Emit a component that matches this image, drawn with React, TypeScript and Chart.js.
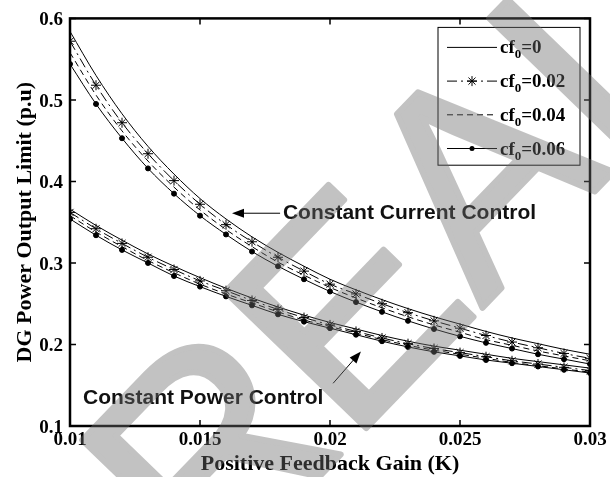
import React, { useEffect, useRef } from 'react';
import { Chart, registerables } from 'chart.js';

Chart.register(...registerables);

// ---------- data ----------
const kValues = [0.010, 0.011, 0.012, 0.013, 0.014, 0.015, 0.016, 0.017, 0.018, 0.019, 0.020,
  0.021, 0.022, 0.023, 0.024, 0.025, 0.026, 0.027, 0.028, 0.029, 0.030];

// Constant Current Control (upper group)
const currentCf0 = [0.584, 0.530, 0.483, 0.443, 0.409, 0.379, 0.354, 0.332, 0.313, 0.296, 0.280, 0.267, 0.255, 0.244, 0.234, 0.225, 0.216, 0.208, 0.201, 0.194, 0.188];
const currentCf002 = [0.572, 0.518, 0.472, 0.434, 0.401, 0.372, 0.347, 0.326, 0.307, 0.290, 0.274, 0.262, 0.250, 0.239, 0.229, 0.220, 0.211, 0.203, 0.196, 0.189, 0.183];
const currentCf004 = [0.558, 0.506, 0.462, 0.425, 0.393, 0.365, 0.341, 0.320, 0.301, 0.285, 0.270, 0.257, 0.245, 0.234, 0.224, 0.215, 0.206, 0.199, 0.192, 0.186, 0.180];
const currentCf006 = [0.544, 0.495, 0.453, 0.416, 0.385, 0.358, 0.335, 0.314, 0.296, 0.280, 0.265, 0.252, 0.240, 0.229, 0.219, 0.210, 0.202, 0.195, 0.188, 0.182, 0.176];

// Constant Power Control (lower group)
const powerCf0 = [0.366, 0.346, 0.328, 0.311, 0.296, 0.282, 0.269, 0.257, 0.246, 0.236, 0.227, 0.219, 0.211, 0.204, 0.198, 0.193, 0.188, 0.183, 0.179, 0.175, 0.171];
const powerCf002 = [0.362, 0.342, 0.324, 0.307, 0.292, 0.278, 0.266, 0.254, 0.243, 0.233, 0.224, 0.216, 0.208, 0.201, 0.195, 0.190, 0.185, 0.180, 0.176, 0.172, 0.168];
const powerCf004 = [0.358, 0.338, 0.320, 0.303, 0.288, 0.274, 0.262, 0.251, 0.240, 0.230, 0.222, 0.214, 0.206, 0.199, 0.193, 0.188, 0.183, 0.178, 0.174, 0.170, 0.166];
const powerCf006 = [0.354, 0.334, 0.316, 0.300, 0.284, 0.271, 0.259, 0.248, 0.237, 0.228, 0.220, 0.212, 0.204, 0.197, 0.191, 0.186, 0.181, 0.177, 0.173, 0.169, 0.165];

const cf0Labels = ['0', '0.02', '0.04', '0.06'];

const xTickValues = [0.01, 0.015, 0.02, 0.025, 0.03];
const xTickLabels = ['0.01', '0.015', '0.02', '0.025', '0.03'];
const yTickValues = [0.1, 0.2, 0.3, 0.4, 0.5, 0.6];
const yTickLabels = ['0.1', '0.2', '0.3', '0.4', '0.5', '0.6'];

const xTitle = 'Positive Feedback Gain (K)';
const yTitle = 'DG Power Output Limit (p.u)';

// annotation text and arrow anchor points in data units [K, value]
const annotationTexts = ['Constant Current Control', 'Constant Power Control'];
const annotationTextAt = [[0.01819, 0.361], [0.0105, 0.1347]];
const annotationArrowFrom = [[0.01808, 0.361], [0.02012, 0.1524]];
const annotationArrowTo = [[0.01623, 0.361], [0.02119, 0.1915]];

const watermarkText = 'REAL';

// ---------- styles ----------
const seriesStyles = [
  { dash: [] as number[], point: false as false | string, radius: 0 },
  { dash: [10, 4, 2, 4], point: 'star', radius: 5 },
  { dash: [6, 4], point: false, radius: 0 },
  { dash: [], point: 'circle', radius: 2.5 },
];

const SERIF = '"Liberation Serif", "Times New Roman", serif';
const SANS = '"Liberation Sans", Arial, sans-serif';

function makeDataset(values: number[], idx: number) {
  const st = seriesStyles[idx];
  return {
    data: kValues.map((k, i) => ({ x: k, y: values[i] })),
    borderColor: '#000',
    backgroundColor: '#000',
    borderWidth: 1,
    borderDash: st.dash,
    pointStyle: st.point ? st.point : 'circle',
    pointRadius: st.radius,
    pointBorderWidth: 1,
    pointBorderColor: '#000',
    pointBackgroundColor: '#000',
    tension: 0.3,
    cubicInterpolationMode: 'monotone' as const,
    fill: false,
  };
}

const framePlugin = {
  id: 'frame',
  afterDatasetsDraw(chart: any) {
    const { ctx, chartArea: a, scales } = chart;
    ctx.save();
    ctx.strokeStyle = '#000';
    ctx.lineWidth = 1.5;
    const tl = 6;
    xTickValues.forEach((v) => {
      const px = scales.x.getPixelForValue(v);
      ctx.beginPath();
      ctx.moveTo(px, a.bottom);
      ctx.lineTo(px, a.bottom - tl);
      ctx.moveTo(px, a.top);
      ctx.lineTo(px, a.top + tl);
      ctx.stroke();
    });
    yTickValues.forEach((v) => {
      const py = scales.y.getPixelForValue(v);
      ctx.beginPath();
      ctx.moveTo(a.left, py);
      ctx.lineTo(a.left + tl, py);
      ctx.moveTo(a.right, py);
      ctx.lineTo(a.right - tl, py);
      ctx.stroke();
    });
    ctx.lineWidth = 2.5;
    ctx.strokeRect(a.left, a.top, a.right - a.left, a.bottom - a.top);
    ctx.restore();
  },
};

function drawArrow(ctx: CanvasRenderingContext2D, x1: number, y1: number, x2: number, y2: number) {
  const ang = Math.atan2(y2 - y1, x2 - x1);
  const hl = 12;
  const hw = 4.5;
  ctx.beginPath();
  ctx.moveTo(x1, y1);
  ctx.lineTo(x2 - Math.cos(ang) * hl * 0.8, y2 - Math.sin(ang) * hl * 0.8);
  ctx.stroke();
  ctx.beginPath();
  ctx.moveTo(x2, y2);
  ctx.lineTo(x2 - Math.cos(ang) * hl + Math.sin(ang) * hw, y2 - Math.sin(ang) * hl - Math.cos(ang) * hw);
  ctx.lineTo(x2 - Math.cos(ang) * hl - Math.sin(ang) * hw, y2 - Math.sin(ang) * hl + Math.cos(ang) * hw);
  ctx.closePath();
  ctx.fill();
}

const annotationPlugin = {
  id: 'annotations',
  afterDraw(chart: any) {
    const { ctx, scales } = chart;
    const X = (v: number) => scales.x.getPixelForValue(v);
    const Y = (v: number) => scales.y.getPixelForValue(v);
    ctx.save();
    ctx.strokeStyle = '#000';
    ctx.fillStyle = '#000';
    ctx.lineWidth = 1;
    annotationTexts.forEach((t, i) => {
      const [f, to] = [annotationArrowFrom[i], annotationArrowTo[i]];
      drawArrow(ctx, X(f[0]), Y(f[1]), X(to[0]), Y(to[1]));
      ctx.font = `bold 21px ${SANS}`;
      ctx.textAlign = 'left';
      ctx.textBaseline = 'middle';
      ctx.fillStyle = '#111';
      ctx.fillText(t, X(annotationTextAt[i][0]), Y(annotationTextAt[i][1]));
      ctx.fillStyle = '#000';
    });
    ctx.restore();
  },
};

const legendPlugin = {
  id: 'customLegend',
  afterDraw(chart: any) {
    const { ctx, chartArea: a } = chart;
    const boxRight = a.right - 10;
    const boxLeft = boxRight - 142;
    const boxTop = a.top + 9;
    const rowH = 33.7;
    const boxH = rowH * cf0Labels.length + 3;
    ctx.save();
    ctx.fillStyle = '#fff';
    ctx.fillRect(boxLeft, boxTop, boxRight - boxLeft, boxH);
    ctx.strokeStyle = '#000';
    ctx.lineWidth = 1;
    ctx.strokeRect(boxLeft, boxTop, boxRight - boxLeft, boxH);
    cf0Labels.forEach((lab, i) => {
      const st = seriesStyles[i];
      const y = boxTop + 20 + i * rowH;
      const x0 = boxLeft + 9;
      const x1 = x0 + 50;
      ctx.setLineDash(st.dash);
      ctx.strokeStyle = '#000';
      ctx.lineWidth = 1;
      ctx.beginPath();
      ctx.moveTo(x0, y);
      ctx.lineTo(x1, y);
      ctx.stroke();
      ctx.setLineDash([]);
      const mx = (x0 + x1) / 2;
      if (st.point === 'star') {
        const r = 5;
        ctx.beginPath();
        for (let k = 0; k < 4; k++) {
          const ang = (k * Math.PI) / 4;
          ctx.moveTo(mx - Math.cos(ang) * r, y - Math.sin(ang) * r);
          ctx.lineTo(mx + Math.cos(ang) * r, y + Math.sin(ang) * r);
        }
        ctx.stroke();
      } else if (st.point === 'circle') {
        ctx.beginPath();
        ctx.arc(mx, y, 2.5, 0, Math.PI * 2);
        ctx.fillStyle = '#000';
        ctx.fill();
      }
      ctx.fillStyle = '#000';
      ctx.textAlign = 'left';
      ctx.textBaseline = 'alphabetic';
      let tx = x1 + 3;
      const base = y + 6;
      ctx.font = `bold 19px ${SERIF}`;
      ctx.fillText('cf', tx, base);
      tx += ctx.measureText('cf').width;
      ctx.font = `bold 13px ${SERIF}`;
      ctx.fillText('0', tx, base + 5);
      tx += ctx.measureText('0').width;
      ctx.font = `bold 19px ${SERIF}`;
      ctx.fillText('=' + lab, tx, base);
    });
    ctx.restore();
  },
};

const watermarkPlugin = {
  id: 'watermark',
  afterDraw(chart: any) {
    const { ctx, width, height } = chart;
    const off = document.createElement('canvas');
    off.width = width;
    off.height = height;
    const o = off.getContext('2d');
    if (!o) return;
    o.translate(207, 593);
    o.rotate((-46 * Math.PI) / 180);
    o.font = `285px ${SANS}`;
    o.textAlign = 'left';
    o.textBaseline = 'alphabetic';
    o.fillStyle = 'rgb(110,110,110)';
    o.strokeStyle = 'rgb(110,110,110)';
    o.lineWidth = 6;
    o.lineJoin = 'round';
    o.fillText(watermarkText, 0, 0);
    o.strokeText(watermarkText, 0, 0);
    ctx.save();
    ctx.globalAlpha = 0.42;
    ctx.drawImage(off, 0, 0);
    ctx.restore();
  },
};

export default function App() {
  const canvasRef = useRef<HTMLCanvasElement | null>(null);

  useEffect(() => {
    document.body.style.margin = '0';
    const canvas = canvasRef.current;
    if (!canvas) return;

    const groups = [
      [currentCf0, currentCf002, currentCf004, currentCf006],
      [powerCf0, powerCf002, powerCf004, powerCf006],
    ];
    const datasets: any[] = [];
    groups.forEach((g) => g.forEach((vals, i) => datasets.push(makeDataset(vals, i))));

    const chart = new Chart(canvas, {
      type: 'line',
      data: { datasets },
      options: {
        responsive: false,
        animation: false,
        devicePixelRatio: 1,
        layout: { padding: { top: 16, right: 20, left: 0, bottom: 0 } },
        plugins: {
          legend: { display: false },
          tooltip: { enabled: false },
        },
        scales: {
          x: {
            type: 'linear',
            min: 0.01,
            max: 0.03,
            grid: { display: false, drawTicks: false },
            border: { display: false },
            afterBuildTicks: (scale: any) => {
              scale.ticks = xTickValues.map((v) => ({ value: v }));
            },
            afterFit: (scale: any) => {
              scale.height = 51;
            },
            ticks: {
              padding: 3,
              maxRotation: 0,
              autoSkip: false,
              color: '#000',
              font: { family: SERIF, size: 19, weight: 'bold' },
              callback: (_v: any, i: number) => xTickLabels[i],
            },
            title: {
              display: true,
              text: xTitle,
              color: '#000',
              font: { family: SERIF, size: 22, weight: 'bold' },
              padding: { top: 0, bottom: -1 },
            },
          },
          y: {
            type: 'linear',
            min: 0.1,
            max: 0.6,
            grid: { display: false, drawTicks: false },
            border: { display: false },
            afterBuildTicks: (scale: any) => {
              scale.ticks = yTickValues.map((v) => ({ value: v }));
            },
            afterFit: (scale: any) => {
              scale.width = 70;
            },
            ticks: {
              padding: 7,
              labelOffset: 2,
              autoSkip: false,
              color: '#000',
              font: { family: SERIF, size: 19, weight: 'bold' },
              callback: (_v: any, i: number) => yTickLabels[i],
            },
            title: {
              display: true,
              text: yTitle,
              color: '#000',
              font: { family: SERIF, size: 22, weight: 'bold' },
              padding: { top: 12, bottom: 0 },
            },
          },
        },
      } as any,
      plugins: [framePlugin, annotationPlugin, legendPlugin, watermarkPlugin],
    });

    return () => chart.destroy();
  }, []);

  return (
    <div style={{ width: 610, height: 477, background: '#fff' }}>
      <canvas ref={canvasRef} width={610} height={477} />
    </div>
  );
}
